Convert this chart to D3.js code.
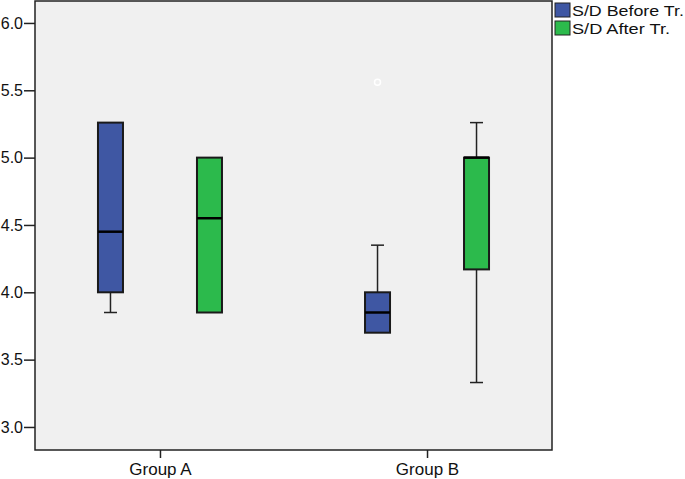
<!DOCTYPE html>
<html>
<head>
<meta charset="utf-8">
<script src="https://cdn.jsdelivr.net/npm/d3@7"></script>
<style>
  body { margin: 0; background: #fff; }
  text { font-family: Arial, "Liberation Sans", sans-serif; fill: #111; }
</style>
</head>
<body>
<svg id="chart"></svg>
<script>
// data
const groups = ['Group A', 'Group B'];
const series = ['S/D Before Tr.', 'S/D After Tr.'];
const colors = ['#3f57a3', '#2cba4c'];
// per series, per group: [lowWhisker, q1, median, q3, highWhisker]
const before = [[3.85, 4.0, 4.45, 5.26, 5.26], [3.7, 3.7, 3.85, 4.0, 4.35]];
const after = [[3.85, 3.85, 4.55, 5.0, 5.0], [3.33, 4.17, 5.0, 5.0, 5.26]];
const outliers = [{ group: 'Group B', series: 0, value: 5.56 }];
const yTicks = [3.0, 3.5, 4.0, 4.5, 5.0, 5.5, 6.0];

const W = 685, H = 479;
const plot = { left: 35, top: 1, right: 552, bottom: 450 };

const svg = d3.select('#chart').attr('width', W).attr('height', H);

const x = d3.scalePoint()
  .domain(groups)
  .range([plot.left, plot.right])
  .padding(0.468);

const xSub = d3.scalePoint()
  .domain(d3.range(series.length))
  .range([-49.5, 49.5]);

const y = d3.scaleLinear()
  .domain([2.829, 6.163])
  .range([plot.bottom, plot.top]);

const boxW = 25;

// plot background
svg.append('rect')
  .attr('x', plot.left)
  .attr('y', plot.top)
  .attr('width', plot.right - plot.left)
  .attr('height', plot.bottom - plot.top)
  .attr('fill', '#f0f0f0')
  .attr('stroke', '#222')
  .attr('stroke-width', 1.5);

// y axis
const yAxis = svg.append('g')
  .attr('transform', `translate(${plot.left},0)`)
  .call(d3.axisLeft(y).tickValues(yTicks).tickFormat(d3.format('.1f')).tickSize(11).tickPadding(1));
yAxis.select('.domain').remove();
yAxis.selectAll('line').attr('stroke', '#222').attr('stroke-width', 1.5);
yAxis.selectAll('text').attr('font-size', 16).attr('fill', '#111')
  .attr('font-family', 'Arial, "Liberation Sans", sans-serif');

// x axis
const xAxis = svg.append('g')
  .attr('transform', `translate(0,${plot.bottom})`)
  .call(d3.axisBottom(x).tickSize(8).tickPadding(5));
xAxis.select('.domain').remove();
xAxis.selectAll('line').attr('stroke', '#222').attr('stroke-width', 1.5);
xAxis.selectAll('text').attr('font-size', 17).attr('fill', '#111')
  .attr('font-family', 'Arial, "Liberation Sans", sans-serif');

// boxes
const rows = [];
[before, after].forEach((s, si) => {
  s.forEach((st, gi) => rows.push({ group: groups[gi], si, st }));
});

const box = svg.selectAll('.box')
  .data(rows).enter()
  .append('g')
  .attr('class', 'box')
  .attr('transform', d => `translate(${x(d.group) + xSub(d.si)},0)`);

// whiskers
box.append('line')
  .attr('x1', 0).attr('x2', 0)
  .attr('y1', d => y(d.st[3])).attr('y2', d => y(d.st[4]))
  .attr('stroke', '#222').attr('stroke-width', 1.5);
box.append('line')
  .attr('x1', 0).attr('x2', 0)
  .attr('y1', d => y(d.st[1])).attr('y2', d => y(d.st[0]))
  .attr('stroke', '#222').attr('stroke-width', 1.5);
box.filter(d => d.st[4] > d.st[3]).append('line')
  .attr('x1', -6.5).attr('x2', 6.5)
  .attr('y1', d => y(d.st[4])).attr('y2', d => y(d.st[4]))
  .attr('stroke', '#222').attr('stroke-width', 1.5);
box.filter(d => d.st[0] < d.st[1]).append('line')
  .attr('x1', -6.5).attr('x2', 6.5)
  .attr('y1', d => y(d.st[0])).attr('y2', d => y(d.st[0]))
  .attr('stroke', '#222').attr('stroke-width', 1.5);

box.append('rect')
  .attr('x', -boxW / 2)
  .attr('width', boxW)
  .attr('y', d => y(d.st[3]))
  .attr('height', d => y(d.st[1]) - y(d.st[3]))
  .attr('fill', d => colors[d.si])
  .attr('stroke', '#1a1a1a')
  .attr('stroke-width', 2);

box.append('line')
  .attr('x1', -boxW / 2).attr('x2', boxW / 2)
  .attr('y1', d => y(d.st[2])).attr('y2', d => y(d.st[2]))
  .attr('stroke', '#000').attr('stroke-width', 2.5);

// outliers
svg.selectAll('.outlier')
  .data(outliers).enter()
  .append('circle')
  .attr('class', 'outlier')
  .attr('cx', d => x(d.group) + xSub(d.series))
  .attr('cy', d => y(d.value))
  .attr('r', 3)
  .attr('fill', '#f0f0f0')
  .attr('stroke', '#fff')
  .attr('stroke-width', 1.5);

// legend
const legend = svg.append('g').attr('transform', 'translate(555,3)');
const item = legend.selectAll('g')
  .data(series).enter()
  .append('g')
  .attr('transform', (d, i) => `translate(0,${i * 18})`);
item.append('rect')
  .attr('width', 15).attr('height', 14)
  .attr('fill', (d, i) => colors[i])
  .attr('stroke', '#222').attr('stroke-width', 1);
item.append('text')
  .attr('x', 17)
  .attr('y', 13)
  .attr('font-size', 15.5)
  .attr('textLength', (d, i) => i === 0 ? 112 : 98)
  .attr('lengthAdjust', 'spacingAndGlyphs')
  .text(d => d);
</script>
</body>
</html>
